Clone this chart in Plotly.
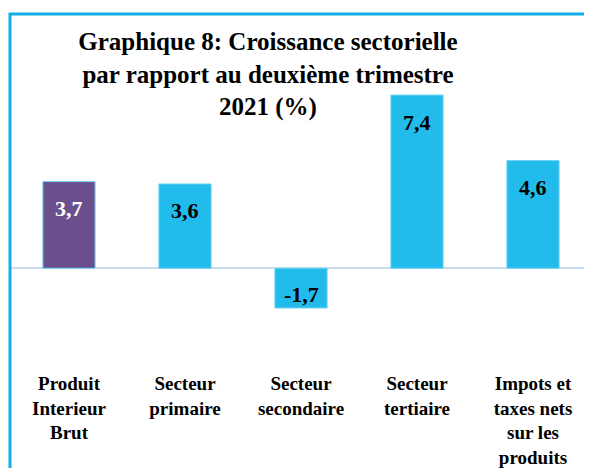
import plotly.graph_objects as go

# Croissance sectorielle T2 2021 (%)
categories = [
    "Produit<br>Interieur<br>Brut",
    "Secteur<br>primaire",
    "Secteur<br>secondaire",
    "Secteur<br>tertiaire",
    "Impots et<br>taxes nets<br>sur les<br>produits",
]
values = [3.7, 3.6, -1.7, 7.4, 4.6]
labels = ["3,7", "3,6", "-1,7", "7,4", "4,6"]
bar_colors = ["#6B4E8C", "#22BCEC", "#22BCEC", "#22BCEC", "#22BCEC"]
label_colors = ["white", "black", "black", "black", "black"]

# la page html ajoute une marge de 8px autour de la figure
OFF = 8
W, H = 592, 468
L, R, T, B = 11 - OFF, 9, 81 - OFF, 106
pw, ph = W - L - R, H - T - B

fig = go.Figure()
fig.add_trace(
    go.Bar(
        x=categories,
        y=values,
        width=0.45,
        marker=dict(color=bar_colors, line=dict(color="#6FD3F2", width=1)),
        hoverinfo="skip",
    )
)

# etiquettes de valeurs dans les barres
for cat, v, lab, col in zip(categories, values, labels, label_colors):
    fig.add_annotation(
        x=cat,
        y=v,
        text="<b>" + lab + "</b>",
        showarrow=False,
        yanchor="middle",
        yshift=-27 if v > 0 else 13,
        font=dict(family="Liberation Serif", size=22, color=col),
    )

# cadre bleu autour du graphique
fig.add_shape(
    type="rect",
    xref="paper",
    yref="paper",
    x0=(10 - OFF - L) / pw,
    x1=1.05,
    y0=-0.5,
    y1=1 + (T - (14 - OFF)) / ph,
    line=dict(color="#12AEEA", width=3),
    fillcolor="rgba(0,0,0,0)",
)

fig.update_layout(
    width=W,
    height=H,
    margin=dict(l=L, r=R, t=T, b=B, autoexpand=False),
    paper_bgcolor="white",
    plot_bgcolor="white",
    showlegend=False,
    title=dict(
        text="Graphique 8: Croissance sectorielle<br>par rapport au deuxième trimestre<br>2021 (%)",
        x=(268 - OFF - L) / pw,
        xref="paper",
        xanchor="center",
        y=1 - 42 / H,
        yanchor="top",
        font=dict(family="Liberation Serif, Times New Roman, serif", size=25,
                  color="black", weight="bold"),
    ),
    font=dict(family="Liberation Serif", color="black"),
)
fig.update_xaxes(
    showgrid=False,
    showline=False,
    ticks="",
    automargin=False,
    tickfont=dict(family="Liberation Serif", size=19, color="black", weight="bold"),
)
fig.update_yaxes(
    range=[-4.35, 8.0],
    showgrid=False,
    showticklabels=False,
    automargin=False,
    zeroline=True,
    zerolinecolor="#C9DCF0",
    zerolinewidth=2,
)

fig.write_html("out.html")
